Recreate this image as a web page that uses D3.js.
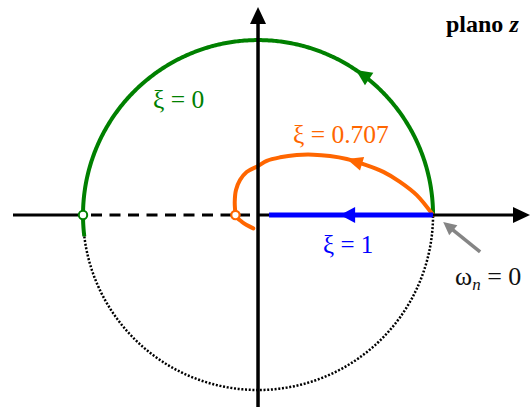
<!DOCTYPE html>
<html><head><meta charset="utf-8">
<script src="https://cdn.jsdelivr.net/npm/d3@7"></script>
<style>html,body{margin:0;padding:0;background:#fff;} svg{display:block;}</style>
</head><body>
<script>
// Visible region of the z-plane (real / imaginary limits)
const realAxis = [-1.4, 1.554];
const imagAxis = [-1.097, 1.189];

// xi = 0 : unit circle, solid upper arc and dotted remainder (degrees)
const xi0Arc = [0, 187];
const xi0Dotted = [187, 360];
const xi0ArrowDeg = 56;

// xi = 1 : real segment from z -> 0 up to z = 1
const xi1Segment = [0.063, 1];
const xi1ArrowRe = 0.469;

// xi = 0.707 locus
const xi707Re = [1.0, 0.907, 0.811, 0.716, 0.602, 0.507, 0.411, 0.316, 0.221, 0.126, 0.050, 0.0, -0.065, -0.103, -0.126, -0.133, -0.131, -0.129, -0.093, -0.065, -0.027];
const xi707Im = [0, 0.114, 0.190, 0.247, 0.291, 0.320, 0.337, 0.345, 0.343, 0.330, 0.310, 0.280, 0.246, 0.200, 0.143, 0.076, 0.029, -0.003, -0.038, -0.057, -0.076];
const xi707ArrowIdx = 5;

// open markers on the negative real axis
const markerRe = [-1, -0.129];
// dashed stretch of the negative real axis
const dashedRe = [-1, 0];

// omega_n = 0 pointer: tail and tip
const pointerRe = [1.269, 1.058];
const pointerIm = [-0.211, -0.040];

const GREEN = "#008000", ORANGE = "#ff6600", BLUE = "#0000ff", GRAY = "#858585";
const FONT = "'Liberation Serif','Times New Roman',serif";

const W = 531, H = 407;
const x = d3.scaleLinear().domain(realAxis).range([13, 530]);
const y = d3.scaleLinear().domain(imagAxis).range([407, 7]);

const svg = d3.select("body").append("svg").attr("width", W).attr("height", H);
const line = d3.line();

function head(g, tip, dir, len, hw, color) {
  const n = Math.hypot(dir[0], dir[1]);
  const ux = dir[0] / n, uy = dir[1] / n;
  const bx = tip[0] - ux * len, by = tip[1] - uy * len;
  g.append("path")
    .attr("d", line([tip, [bx - uy * hw, by + ux * hw], [bx + uy * hw, by - ux * hw]]) + "Z")
    .attr("fill", color);
}

function arcPoints(a0, a1) {
  return d3.range(a0, a1 + 0.001, 0.5).map(d => {
    const t = d * Math.PI / 180;
    return [x(Math.cos(t)), y(Math.sin(t))];
  });
}

// dotted lower part of the unit circle
svg.append("path").attr("d", line(arcPoints(xi0Dotted[0], xi0Dotted[1])))
  .attr("fill", "none").attr("stroke", "#000").attr("stroke-width", 2.5)
  .attr("stroke-dasharray", "2,1.7");

// xi = 0 arc
svg.append("path").attr("d", line(arcPoints(xi0Arc[0], xi0Arc[1])))
  .attr("fill", "none").attr("stroke", GREEN).attr("stroke-width", 4);
{
  const t = xi0ArrowDeg * Math.PI / 180;
  head(svg, [x(Math.cos(t)), y(Math.sin(t))], [-Math.sin(t), -Math.cos(t)], 16, 7.5, GREEN);
}

// xi = 0.707 locus
const orangePts = xi707Re.map((r, i) => [x(r), y(xi707Im[i])]);
svg.append("path").attr("d", d3.line().curve(d3.curveCatmullRom.alpha(0.5))(orangePts))
  .attr("fill", "none").attr("stroke", ORANGE).attr("stroke-width", 4)
  .attr("stroke-linecap", "round");
{
  const p = orangePts[xi707ArrowIdx], q = orangePts[xi707ArrowIdx - 1];
  head(svg, p, [p[0] - q[0], p[1] - q[1]], 16, 7, ORANGE);
}

// axes
const axes = svg.append("g");
axes.append("line").attr("x1", x(realAxis[0])).attr("x2", x(dashedRe[0]))
  .attr("y1", y(0)).attr("y2", y(0)).attr("stroke", "#000").attr("stroke-width", 3);
axes.append("line").attr("x1", x(dashedRe[0]) + 8).attr("x2", x(dashedRe[1]))
  .attr("y1", y(0)).attr("y2", y(0)).attr("stroke", "#000").attr("stroke-width", 3)
  .attr("stroke-dasharray", "11,7.5");
axes.append("line").attr("x1", x(dashedRe[1])).attr("x2", x(realAxis[1]) - 15)
  .attr("y1", y(0)).attr("y2", y(0)).attr("stroke", "#000").attr("stroke-width", 3);
head(axes, [x(realAxis[1]), y(0)], [1, 0], 17, 8, "#000");
axes.append("line").attr("x1", x(0)).attr("x2", x(0))
  .attr("y1", y(imagAxis[0])).attr("y2", y(imagAxis[1]) + 14)
  .attr("stroke", "#000").attr("stroke-width", 3.5);
head(axes, [x(0), y(imagAxis[1])], [0, -1], 17, 8, "#000");

// xi = 1 segment
svg.append("line").attr("x1", x(xi1Segment[0])).attr("x2", x(xi1Segment[1]))
  .attr("y1", y(0)).attr("y2", y(0)).attr("stroke", BLUE).attr("stroke-width", 5);
head(svg, [x(xi1ArrowRe), y(0)], [-1, 0], 15, 8, BLUE);

// open markers
svg.append("circle").attr("cx", x(markerRe[0])).attr("cy", y(0)).attr("r", 4.2)
  .attr("fill", "#fff").attr("stroke", GREEN).attr("stroke-width", 2);
svg.append("circle").attr("cx", x(markerRe[1])).attr("cy", y(0)).attr("r", 4.2)
  .attr("fill", "#fff").attr("stroke", ORANGE).attr("stroke-width", 2.2);

// omega_n = 0 pointer
{
  const a = [x(pointerRe[0]), y(pointerIm[0])], b = [x(pointerRe[1]), y(pointerIm[1])];
  const d = [b[0] - a[0], b[1] - a[1]], n = Math.hypot(d[0], d[1]);
  svg.append("line").attr("x1", a[0]).attr("y1", a[1])
    .attr("x2", b[0] - d[0] / n * 10).attr("y2", b[1] - d[1] / n * 10)
    .attr("stroke", GRAY).attr("stroke-width", 3.5);
  head(svg, b, d, 13, 6.5, GRAY);
}

// labels
const t1 = svg.append("text").attr("x", 446).attr("y", 32)
  .attr("font-family", FONT).attr("font-size", 24).attr("font-weight", "bold").attr("fill", "#000");
t1.append("tspan").text("plano ");
t1.append("tspan").attr("font-style", "italic").text("z");

svg.append("text").attr("x", 153).attr("y", 108).attr("font-family", FONT)
  .attr("font-size", 25.5).attr("fill", GREEN).text("ξ = 0");
svg.append("text").attr("x", 293).attr("y", 143).attr("font-family", FONT)
  .attr("font-size", 25.5).attr("fill", ORANGE).text("ξ = 0.707");
svg.append("text").attr("x", 323).attr("y", 253).attr("font-family", FONT)
  .attr("font-size", 25).attr("fill", BLUE).text("ξ = 1");

const t2 = svg.append("text").attr("x", 455).attr("y", 285)
  .attr("font-family", FONT).attr("font-size", 26).attr("fill", "#111");
t2.append("tspan").text("ω");
t2.append("tspan").attr("font-style", "italic").attr("font-size", 17).attr("dy", 5).text("n");
t2.append("tspan").attr("dy", -5).text(" = 0");
</script>
</body></html>
